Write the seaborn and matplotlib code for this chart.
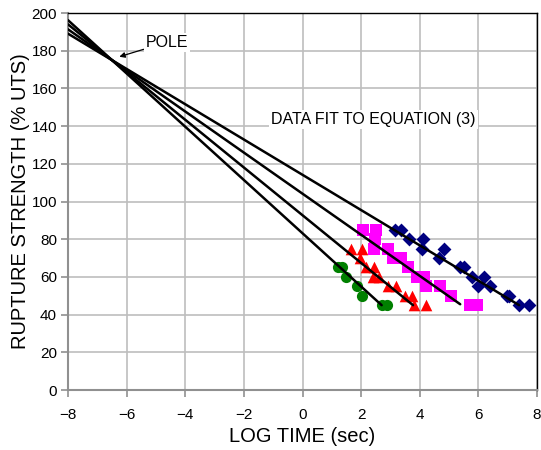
import numpy as np
import pandas as pd
import matplotlib
matplotlib.use("Agg")
import matplotlib.pyplot as plt
import seaborn as sns

# ---- data ----
green_logt = [1.22, 1.36, 1.47, 1.85, 2.04, 2.70, 2.88]
green_str = [65, 65, 60, 55, 50, 45, 45]

red_logt = [1.65, 2.02, 1.96, 2.15, 2.44, 2.40, 2.62, 2.91, 3.18, 3.48, 3.73, 3.79, 4.21]
red_str = [75, 75, 70, 65, 65, 60, 60, 55, 55, 50, 50, 45, 45]

magenta_logt = [2.05, 2.50, 2.47, 2.44, 2.91, 3.10, 3.35, 3.60, 3.92, 4.15, 4.22, 4.70, 5.07, 5.72, 5.95]
magenta_str = [85, 85, 80, 75, 75, 70, 70, 65, 60, 60, 55, 55, 50, 45, 45]

blue_logt = [3.16, 3.36, 3.65, 4.10, 4.07, 4.82, 4.67, 5.37, 5.51, 5.77, 6.20, 6.00, 6.41, 6.97, 7.06, 7.40, 7.74]
blue_str = [85, 85, 80, 80, 75, 75, 70, 65, 65, 60, 60, 55, 55, 50, 50, 45, 45]

series_names = ["green", "red", "magenta", "blue"]
series_colors = ["#008000", "#FF0000", "#FF00FF", "#000080"]
series_markers = ["o", "^", "s", "D"]

# fit lines: all pass through the pole, end at given log time / strength
pole_logt = -6.5
pole_str = 175.0
fit_start_logt = -8.0
fit_end_logt = [2.70, 3.77, 5.38, 7.39]
fit_end_str = [45, 45, 45.5, 45]

x_ticks = [-8, -6, -4, -2, 0, 2, 4, 6, 8]
y_ticks = [0, 20, 40, 60, 80, 100, 120, 140, 160, 180, 200]

# ---- build tables ----
pts = pd.DataFrame({
    "logt": green_logt + red_logt + magenta_logt + blue_logt,
    "strength": green_str + red_str + magenta_str + blue_str,
    "series": (["green"] * len(green_logt) + ["red"] * len(red_logt)
               + ["magenta"] * len(magenta_logt) + ["blue"] * len(blue_logt)),
})

rows = []
for name, xe, ye in zip(series_names, fit_end_logt, fit_end_str):
    slope = (ye - pole_str) / (xe - pole_logt)
    for xv in (fit_start_logt, xe):
        rows.append({"logt": xv, "strength": pole_str + slope * (xv - pole_logt), "series": name})
fits = pd.DataFrame(rows)

# ---- plot ----
sns.set_theme(style="white")
plt.rcParams["font.family"] = ["Liberation Sans", "DejaVu Sans"]
plt.rcParams["text.color"] = "black"
plt.rcParams["axes.labelcolor"] = "black"

fig = plt.figure(figsize=(5.41, 4.50), dpi=100)
ax = fig.add_axes([68 / 541, 1 - 390 / 450, (537 - 68) / 541, (390 - 13) / 450])

palette = dict(zip(series_names, series_colors))
markers = dict(zip(series_names, series_markers))
sizes = {"green": 65, "red": 70, "magenta": 80, "blue": 50}

for name in series_names:
    sub = pts[pts.series == name]
    sns.scatterplot(data=sub, x="logt", y="strength", color=palette[name],
                    marker=markers[name], s=sizes[name], linewidth=0,
                    ax=ax, legend=False, zorder=3)

sns.lineplot(data=fits, x="logt", y="strength", units="series", estimator=None,
             color="black", linewidth=1.8, ax=ax, legend=False, zorder=4)

ax.set_xlim(-8, 8)
ax.set_ylim(0, 200)
ax.set_xticks(x_ticks)
ax.set_yticks(y_ticks)
ax.grid(True, color="#BEBEBE", linewidth=1.2)
ax.set_axisbelow(True)

for side in ("left", "bottom"):
    ax.spines[side].set_color("#909090")
    ax.spines[side].set_linewidth(1.5)
for side in ("top", "right"):
    ax.spines[side].set_color("black")
    ax.spines[side].set_linewidth(1.0)

ax.tick_params(axis="both", direction="out", length=5, width=1.2, color="#909090",
               labelsize=11, labelcolor="black", pad=3, bottom=True, left=True)
ax.tick_params(axis="x", pad=8)

ax.set_xlabel("LOG TIME (sec)", fontsize=14.5)
ax.set_ylabel("RUPTURE STRENGTH (% UTS)", fontsize=14.5)
ax.xaxis.set_label_coords(0.5, -0.098)
ax.yaxis.set_label_coords(-0.082, 0.5)

bbox = dict(facecolor="white", edgecolor="none", pad=1.5)
ax.annotate("POLE", xy=(-6.25, 176.8), xytext=(-5.35, 184.5),
            fontsize=11.5, va="center", ha="left", bbox=bbox,
            arrowprops=dict(arrowstyle="-|>", color="black", lw=0.9,
                            mutation_scale=8, shrinkA=0, shrinkB=0),
            zorder=5)
ax.text(-1.07, 143.5, "DATA FIT TO EQUATION (3)", fontsize=11.5, ha="left", va="center",
        bbox=bbox, zorder=5)

fig.savefig("out.png", dpi=100)
